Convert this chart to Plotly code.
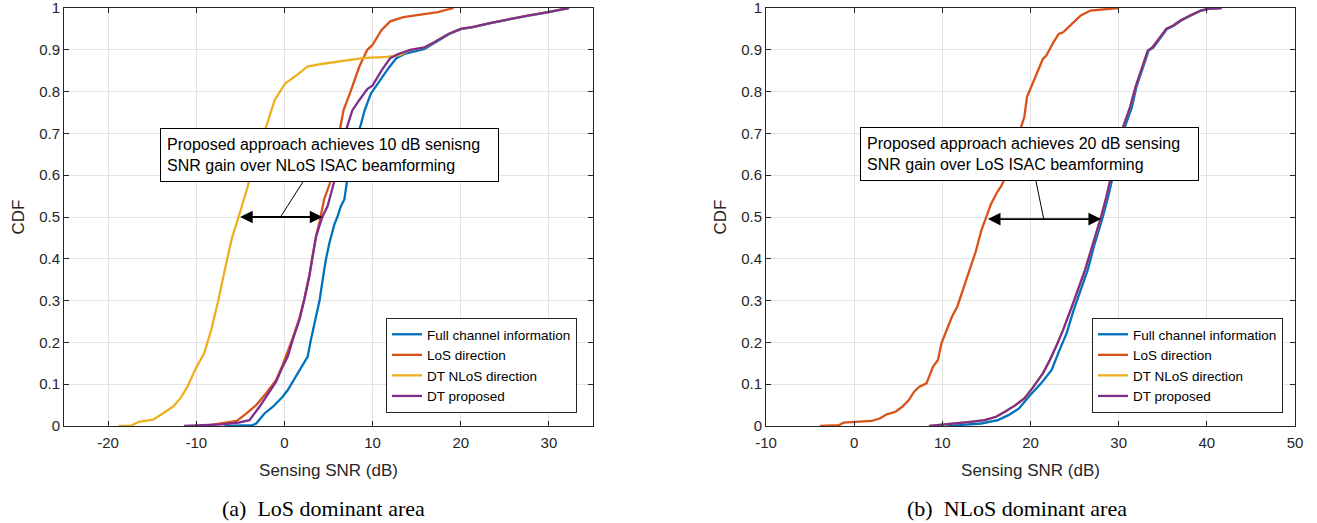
import numpy as np
import plotly.graph_objects as go

# ---------------- data ----------------
SERIES = ["Full channel information", "LoS direction", "DT NLoS direction", "DT proposed"]

# (a) LoS dominant area
a_full_x = [-6.8, -3.6, -3.2, -2.26, -1.3, -0.2, 0.38, 0.94, 1.9, 2.64, 3.0, 3.6, 4.0, 4.34, 4.7, 5.1, 5.66, 6.04,
            6.4, 6.8, 7.2, 7.7, 8.6, 9.1, 9.8, 10.6, 11.8, 12.7, 13.6, 15.9, 17.1, 18.7, 20.1, 21.4, 23.4, 25.7,
            27.7, 30.0, 32.3]
a_full_y = [0.0, 0.002, 0.006, 0.03, 0.046, 0.07, 0.086, 0.106, 0.142, 0.166, 0.206, 0.262, 0.302, 0.35, 0.398,
            0.438, 0.482, 0.502, 0.526, 0.542, 0.6, 0.675, 0.716, 0.755, 0.795, 0.82, 0.856, 0.88, 0.89, 0.902,
            0.918, 0.938, 0.95, 0.954, 0.964, 0.974, 0.982, 0.99, 1.0]

a_los_x = [-9.0, -5.4, -4.3, -3.2, -2.0, -0.94, -0.2, 0.94, 1.7, 2.26, 2.83, 3.2, 3.6, 4.0, 4.3, 4.5, 5.15, 5.7,
           6.3, 6.7, 7.5, 8.5, 9.4, 10.0, 11.0, 12.0, 13.5, 15.5, 17.4, 19.2]
a_los_y = [0.0, 0.012, 0.03, 0.05, 0.08, 0.11, 0.146, 0.21, 0.258, 0.305, 0.362, 0.41, 0.456, 0.49, 0.52, 0.542,
           0.58, 0.645, 0.71, 0.755, 0.8, 0.86, 0.9, 0.912, 0.947, 0.968, 0.978, 0.985, 0.99, 1.0]

a_nlos_x = [-18.8, -17.5, -16.5, -14.9, -13.8, -12.6, -11.8, -11.0, -10.05, -9.1, -8.3, -7.5, -6.7, -5.95, -5.2,
            -4.2, -3.2, -2.07, -1.1, -0.5, 0.1, 1.45, 2.6, 4.2, 6.5, 8.85, 11.6, 13.1, 14.3, 15.9, 17.0, 18.6,
            20.0, 21.3, 23.3, 25.6, 27.6, 29.9, 32.2]
a_nlos_y = [0.0, 0.0, 0.01, 0.015, 0.03, 0.047, 0.066, 0.094, 0.138, 0.174, 0.23, 0.3, 0.38, 0.45, 0.5, 0.57,
            0.66, 0.716, 0.78, 0.8, 0.82, 0.84, 0.86, 0.866, 0.873, 0.88, 0.883, 0.887, 0.9, 0.906, 0.918, 0.938,
            0.95, 0.954, 0.964, 0.974, 0.982, 0.99, 1.0]

a_prop_x = [-11.4, -7.1, -5.2, -3.96, -2.83, -1.7, -0.94, -0.2, 0.38, 0.94, 1.7, 2.26, 2.83, 3.2, 3.6, 3.96, 4.34,
            4.9, 5.1, 5.5, 6.1, 7.1, 7.7, 8.5, 9.4, 10.0, 11.0, 12.0, 12.9, 14.3, 15.9, 17.0, 18.6, 20.0, 21.3,
            23.3, 25.6, 27.6, 29.9, 32.2]
a_prop_y = [0.0, 0.004, 0.008, 0.014, 0.046, 0.082, 0.106, 0.142, 0.166, 0.206, 0.254, 0.302, 0.358, 0.406, 0.454,
            0.478, 0.502, 0.526, 0.542, 0.575, 0.62, 0.715, 0.755, 0.78, 0.806, 0.815, 0.85, 0.88, 0.89, 0.9,
            0.906, 0.918, 0.938, 0.95, 0.954, 0.964, 0.974, 0.982, 0.99, 1.0]

# (b) NLoS dominant area
b_full_x = [10.5, 14.4, 16.3, 17.5, 18.7, 19.8, 21.2, 22.4, 23.3, 24.1, 24.9, 25.7, 26.5, 27.2, 27.8, 28.2, 28.8,
            29.4, 30.2, 30.7, 31.5, 32.0, 32.6, 33.4, 33.95, 34.7, 35.5, 36.3, 37.1, 38.2, 39.4, 40.2, 41.7]
b_full_y = [0.0, 0.006, 0.014, 0.026, 0.042, 0.07, 0.102, 0.134, 0.182, 0.222, 0.278, 0.326, 0.374, 0.43, 0.47,
            0.5, 0.548, 0.604, 0.675, 0.715, 0.763, 0.81, 0.85, 0.898, 0.906, 0.926, 0.95, 0.958, 0.97, 0.982,
            0.994, 0.998, 1.0]

b_los_x = [-3.9, -1.75, -1.2, 0.0, 1.95, 2.9, 3.7, 4.7, 5.45, 6.2, 6.8, 7.4, 8.2, 8.95, 9.5, 9.9, 10.5, 11.1,
           11.7, 12.45, 13.2, 13.8, 14.4, 15.0, 15.5, 16.1, 16.7, 17.5, 18.1, 18.7, 19.3, 19.6, 20.2, 20.8, 21.4,
           21.8, 22.6, 23.2, 23.7, 24.7, 25.7, 26.8, 28.4, 30.0]
b_los_y = [0.0, 0.002, 0.008, 0.01, 0.012, 0.018, 0.028, 0.034, 0.046, 0.062, 0.082, 0.094, 0.102, 0.142, 0.158,
           0.198, 0.23, 0.262, 0.286, 0.334, 0.378, 0.418, 0.466, 0.5, 0.53, 0.555, 0.575, 0.611, 0.65, 0.7,
           0.739, 0.787, 0.818, 0.846, 0.878, 0.886, 0.918, 0.938, 0.942, 0.962, 0.982, 0.994, 0.997, 1.0]

b_prop_x = [8.5, 11.3, 13.2, 14.8, 16.1, 17.1, 18.3, 19.3, 20.2, 21.4, 22.2, 22.9, 23.7, 24.7, 25.5, 26.2, 27.0,
            27.6, 28.0, 28.6, 29.2, 30.0, 30.5, 31.3, 31.9, 32.5, 33.3, 33.85, 34.6, 35.4, 36.2, 37.0, 38.1, 39.3,
            40.1, 41.6]
b_prop_y = [0.0, 0.005, 0.01, 0.014, 0.022, 0.034, 0.05, 0.066, 0.09, 0.126, 0.158, 0.19, 0.23, 0.286, 0.334,
            0.374, 0.43, 0.47, 0.5, 0.548, 0.604, 0.675, 0.715, 0.763, 0.81, 0.85, 0.898, 0.906, 0.926, 0.95,
            0.958, 0.97, 0.982, 0.994, 0.998, 1.0]

# in (b) the DT NLoS curve lies exactly under the DT proposed curve
b_nlos_x = list(b_prop_x)
b_nlos_y = list(b_prop_y)

a_xtick_vals = [-20, -10, 0, 10, 20, 30]
a_xtick_text = ["-20", "-10", "0", "10", "20", "30"]
b_xtick_vals = [-10, 0, 10, 20, 30, 40, 50]
b_xtick_text = ["-10", "0", "10", "20", "30", "40", "50"]
ytick_vals = [0, 0.1, 0.2, 0.3, 0.4, 0.5, 0.6, 0.7, 0.8, 0.9, 1.0]
ytick_text = ["0", "0.1", "0.2", "0.3", "0.4", "0.5", "0.6", "0.7", "0.8", "0.9", "1"]

a_note = "Proposed approach achieves 10 dB senisng<br>SNR gain over NLoS ISAC beamforming"
b_note = "Proposed approach achieves 20 dB sensing<br>SNR gain over LoS ISAC beamforming"
captions = ["(a)  LoS dominant area", "(b)  NLoS dominant area"]

# ---------------- styling ----------------
COLORS = ["#0072BD", "#D95319", "#EDB120", "#7E2F8E"]
AX = "#262626"
GRID = "#e3e3e3"
SANS = "Liberation Sans, Arial, sans-serif"
SERIF = "Liberation Serif, Times New Roman, serif"
W, H = 1317, 523

fig = go.Figure()

a_sets = [(a_full_x, a_full_y), (a_los_x, a_los_y), (a_nlos_x, a_nlos_y), (a_prop_x, a_prop_y)]
b_sets = [(b_full_x, b_full_y), (b_los_x, b_los_y), (b_nlos_x, b_nlos_y), (b_prop_x, b_prop_y)]

for i, (xs, ys) in enumerate(a_sets):
    fig.add_trace(go.Scatter(x=xs, y=ys, mode="lines", name=SERIES[i],
                             line=dict(color=COLORS[i], width=2.3),
                             xaxis="x", yaxis="y", legend="legend"))
for i, (xs, ys) in enumerate(b_sets):
    fig.add_trace(go.Scatter(x=xs, y=ys, mode="lines", name=SERIES[i],
                             line=dict(color=COLORS[i], width=2.3),
                             xaxis="x2", yaxis="y2", legend="legend2"))


def axis_style(**kw):
    d = dict(showline=True, linecolor=AX, linewidth=1, mirror="ticks",
             ticks="inside", ticklen=5, tickcolor=AX, tickwidth=1,
             showgrid=True, gridcolor=GRID, gridwidth=1, zeroline=False,
             tickfont=dict(family=SANS, size=15, color=AX), automargin=False,
             ticklabeloverflow="allow")
    d.update(kw)
    return d


dom_a = [64 / W, 593 / W]
dom_b = [766 / W, 1295 / W]
dom_y = [1 - 426 / H, 1 - 8 / H]

xtitle = dict(text="Sensing SNR (dB)", font=dict(family=SANS, size=17, color=AX), standoff=14)
ytitle = dict(text="CDF", font=dict(family=SANS, size=17, color=AX), standoff=10)
legend_style = dict(xanchor="right", yanchor="bottom", bgcolor="white", bordercolor=AX, borderwidth=1,
                    font=dict(family=SANS, size=13.5, color="black"), tracegroupgap=0)

fig.update_layout(
    width=W, height=H, margin=dict(l=0, r=0, t=0, b=0),
    paper_bgcolor="white", plot_bgcolor="white",
    xaxis=axis_style(domain=dom_a, range=[-25, 35], tickvals=a_xtick_vals, ticktext=a_xtick_text,
                     anchor="y", title=xtitle, ticklabelstandoff=3),
    yaxis=axis_style(domain=dom_y, range=[0, 1], tickvals=ytick_vals, ticktext=ytick_text, anchor="x",
                     title=ytitle),
    xaxis2=axis_style(domain=dom_b, range=[-10, 50], tickvals=b_xtick_vals, ticktext=b_xtick_text,
                      anchor="y2", title=xtitle, ticklabelstandoff=3),
    yaxis2=axis_style(domain=dom_y, range=[0, 1], tickvals=ytick_vals, ticktext=ytick_text, anchor="x2",
                      title=ytitle),
    legend=dict(x=577 / W, y=1 - 413 / H, **legend_style),
    legend2=dict(x=1283 / W, y=1 - 413 / H, **legend_style),
    showlegend=True,
)

# double arrows between the medians
a_left = float(np.interp(0.5, a_nlos_y, a_nlos_x))
a_right = float(np.interp(0.5, a_prop_y, a_prop_x))
b_left = float(np.interp(0.5, b_los_y, b_los_x))
b_right = float(np.interp(0.5, b_prop_y, b_prop_x))

arrows = [("x", "y", a_left, a_right, 0.5), ("x2", "y2", b_left, b_right, 0.495)]
for xr, yr, x0, x1, yv in arrows:
    fig.add_annotation(xref=xr, yref=yr, axref=xr, ayref=yr, x=x1, y=yv, ax=x0, ay=yv,
                       text="", showarrow=True, arrowside="end+start", arrowhead=2,
                       arrowsize=1.4, arrowwidth=1.8, arrowcolor="black",
                       standoff=0, startstandoff=0)

# connector lines from the text boxes to the arrows
fig.add_shape(type="line", xref="x", yref="y", x0=2.13, y0=0.585, x1=(a_left + a_right) / 2, y1=0.5,
              line=dict(color="black", width=1))
fig.add_shape(type="line", xref="x2", yref="y2", x0=20.6, y0=0.588, x1=(b_left + b_right) / 2, y1=0.495,
              line=dict(color="black", width=1))

# text boxes
for xr, yr, xv, yv, txt in [("x", "y", -14.15, 0.7126, a_note), ("x2", "y2", 0.7, 0.715, b_note)]:
    fig.add_annotation(xref=xr, yref=yr, x=xv, y=yv, xanchor="left", yanchor="top",
                       text=txt, showarrow=False, align="left",
                       font=dict(family=SANS, size=16, color="black"),
                       bgcolor="white", bordercolor="black", borderwidth=1, borderpad=6,
                       width=325, height=40, valign="middle")

# sub-captions
for xc, cap in [(323 / W, captions[0]), (1017 / W, captions[1])]:
    fig.add_annotation(xref="paper", yref="paper", x=xc, y=1 - 508 / H, xanchor="center", yanchor="middle",
                       text=cap, showarrow=False, font=dict(family=SERIF, size=22, color="black"))

fig.write_html("out.html", config={"displayModeBar": False},
               post_script="document.body.style.margin='0';")
